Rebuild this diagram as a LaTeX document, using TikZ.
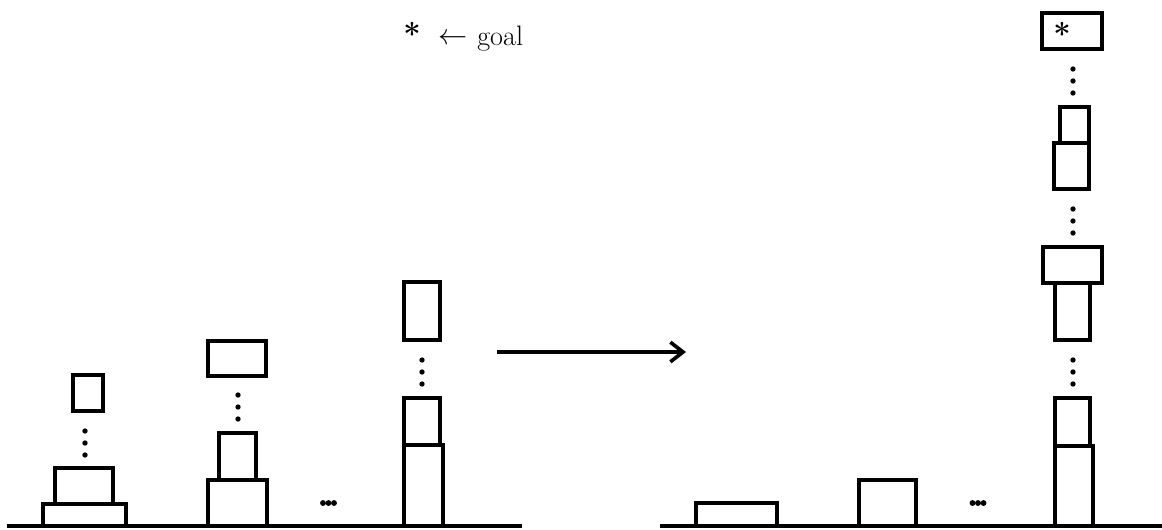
\documentclass[tikz,border=0pt]{standalone}
\usepackage{tikz}
\usetikzlibrary{arrows.meta}

\begin{document}
\begin{tikzpicture}[x=0.025cm,y=-0.025cm,
      blk/.style={draw,line width=2.8pt},
      floor/.style={line width=3pt},
      every node/.style={font=\fontsize{20}{24}\selectfont,inner sep=0pt}
]
\useasboundingbox (0,0) rectangle (1162,529);
% before: towers on the left table
\coordinate (floorLa) at (7,526);
\coordinate (floorLb) at (522,526);
\draw[floor] (floorLa) -- (floorLb);
\foreach \xa/\ya/\xb/\yb in {43/504/126/526,55/468/113/504,73/375/103/411,
      208/480/267/526,219/433/256/480,208/341/266/376,
      404/445/443/526,404/398/440/445,404/282/440/340}
      \path[blk] (\xa,\ya) rectangle (\xb,\yb);
\foreach \x/\y in {85/431,238/395,422/360}
      \foreach \k in {0,1,2}
            \fill (\x,\y+12*\k) circle (1.9pt);
\foreach \k in {0,1,2}
      \fill (323+5.5*\k,503) circle (2.1pt);

% the move
\coordinate (from) at (497,352);
\coordinate (to) at (686,352);
\draw[line width=2.8pt,-{Straight Barb[length=9pt,width=14pt,line width=2.6pt]}] (from) -- (to);

% after: one tall tower on the right table
\coordinate (floorRa) at (660,526);
\coordinate (floorRb) at (1162,526);
\draw[floor] (floorRa) -- (floorRb);
\foreach \xa/\ya/\xb/\yb in {696/503/777/526,859/480/916/526,
      1055/446/1093/526,1055/398/1090/446,1055/283/1090/340,1043/247/1102/283,
      1054/143/1089/189,1060/107/1089/143,1042/13/1102/49}
      \path[blk] (\xa,\ya) rectangle (\xb,\yb);
\foreach \y in {360,209,69}
      \foreach \k in {0,1,2}
            \fill (1073,\y+12*\k) circle (1.9pt);
\foreach \k in {0,1,2}
      \fill (972.5+5.5*\k,503) circle (2.1pt);

% goal marks
\node[font=\fontsize{22}{24}\selectfont\bfseries] (goalstar) at (1062,34) {*};
\node[font=\fontsize{22}{24}\selectfont\bfseries] (legstar) at (412,34) {*};
\node[font=\fontsize{22}{24}\selectfont] (legarrow) at (453,39) {$\leftarrow$};
\node[anchor=base west] (legtext) at (477,45) {goal};
\end{tikzpicture}
\end{document}
